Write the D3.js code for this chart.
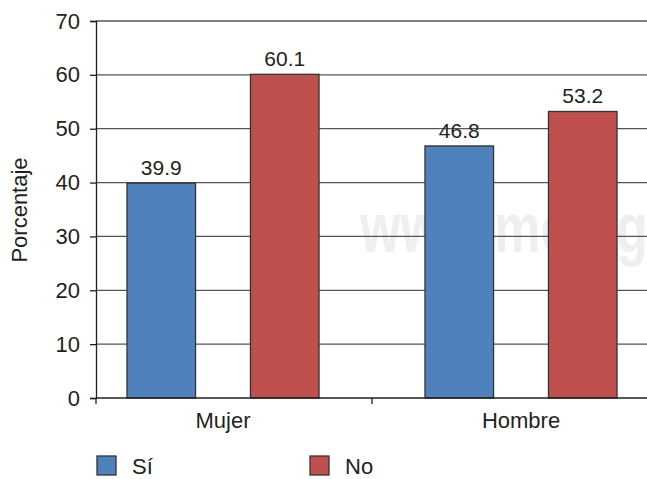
<!DOCTYPE html>
<html>
<head>
<meta charset="utf-8">
<script src="https://cdn.jsdelivr.net/npm/d3@7"></script>
<style>
  body { margin: 0; background: #fff; }
  svg { display: block; font-family: "Liberation Sans", Arial, sans-serif; }
</style>
</head>
<body>
<script>
// data
const categories = ["Mujer", "Hombre"];
const series = ["Sí", "No"];
const siValues = [39.9, 46.8];
const noValues = [60.1, 53.2];
const yTicks = [0, 10, 20, 30, 40, 50, 60, 70];

const colors = { "Sí": "#4f81bd", "No": "#c0504d" };
const textColor = "#231f20";

const width = 647, height = 479;
const margin = { top: 21, right: -1, bottom: 81, left: 96 };

const svg = d3.select("body").append("svg")
  .attr("width", width)
  .attr("height", height);

const x0 = d3.scaleBand()
  .domain(categories)
  .range([margin.left, width - margin.right]);

const x1 = d3.scaleBand()
  .domain(series)
  .range([0, x0.bandwidth()])
  .paddingInner(0.445)
  .paddingOuter(0.34);

// groups sit a bit away from the middle tick, like the original
const groupNudge = [-11, 11];

const y = d3.scaleLinear()
  .domain([0, 70])
  .range([height - margin.bottom, margin.top]);

// watermark (cut by the bars and the right edge, as in the source)
svg.append("text")
  .attr("transform", "translate(360,252) scale(0.745,1)")
  .attr("font-size", 70)
  .attr("font-weight", "bold")
  .attr("fill", "#efefef")
  .text("www.medig");

// grid
svg.append("g")
  .selectAll("line")
  .data(yTicks.filter(d => d > 0))
  .join("line")
  .attr("x1", margin.left)
  .attr("x2", width)
  .attr("y1", d => y(d))
  .attr("y2", d => y(d))
  .attr("stroke", "#555")
  .attr("stroke-width", 1.3);

// y axis
const yAxis = svg.append("g")
  .attr("transform", `translate(${margin.left},0)`)
  .call(d3.axisLeft(y).tickValues(yTicks).tickSize(6).tickPadding(10).tickFormat(d3.format("d")));
yAxis.select(".domain").attr("stroke", "#231f20").attr("stroke-width", 1.3);
yAxis.selectAll(".tick line").attr("stroke", "#231f20").attr("stroke-width", 1.3);
yAxis.selectAll("text")
  .attr("font-size", 22)
  .attr("fill", textColor)
  .attr("font-family", "Liberation Sans, Arial, sans-serif");

// bars
const rows = categories.map((c, i) => ({ cat: c, i, vals: [
  { key: "Sí", value: siValues[i] },
  { key: "No", value: noValues[i] }
] }));

const groups = svg.append("g")
  .selectAll("g")
  .data(rows)
  .join("g")
  .attr("transform", d => `translate(${x0(d.cat) + groupNudge[d.i]},0)`);

groups.selectAll("rect")
  .data(d => d.vals)
  .join("rect")
  .attr("x", d => x1(d.key))
  .attr("width", x1.bandwidth())
  .attr("y", d => y(d.value))
  .attr("height", d => y(0) - y(d.value))
  .attr("fill", d => colors[d.key])
  .attr("stroke", "#333")
  .attr("stroke-width", 1.3);

groups.selectAll("text")
  .data(d => d.vals)
  .join("text")
  .attr("x", d => x1(d.key) + x1.bandwidth() / 2)
  .attr("y", d => y(d.value) - 8)
  .attr("text-anchor", "middle")
  .attr("font-size", 21)
  .attr("fill", textColor)
  .text(d => d.value.toFixed(1));

// x axis
const xAxis = svg.append("g")
  .attr("transform", `translate(0,${y(0)})`);
xAxis.append("line")
  .attr("x1", margin.left)
  .attr("x2", width)
  .attr("stroke", "#231f20")
  .attr("stroke-width", 1.3);
xAxis.selectAll("line.tk")
  .data([margin.left, x0(categories[1]), width - margin.right])
  .join("line")
  .attr("class", "tk")
  .attr("x1", d => d)
  .attr("x2", d => d)
  .attr("y1", 0)
  .attr("y2", 6)
  .attr("stroke", "#231f20")
  .attr("stroke-width", 1.3);
xAxis.selectAll("text")
  .data(rows)
  .join("text")
  .attr("x", d => x0(d.cat) + x0.bandwidth() / 2 + groupNudge[d.i])
  .attr("y", 30)
  .attr("text-anchor", "middle")
  .attr("font-size", 22)
  .attr("fill", textColor)
  .text(d => d.cat);

// y title
svg.append("text")
  .attr("transform", "translate(27,210) rotate(-90)")
  .attr("text-anchor", "middle")
  .attr("font-size", 22)
  .attr("fill", textColor)
  .text("Porcentaje");

// legend
const legendX = [97, 310];
const legend = svg.append("g")
  .selectAll("g")
  .data(series)
  .join("g")
  .attr("transform", (d, i) => `translate(${legendX[i]},456)`);
legend.append("rect")
  .attr("width", 19)
  .attr("height", 19)
  .attr("fill", d => colors[d])
  .attr("stroke", "#333")
  .attr("stroke-width", 1.3);
legend.append("text")
  .attr("x", 35)
  .attr("y", 18)
  .attr("font-size", 22)
  .attr("fill", textColor)
  .text(d => d);
</script>
</body>
</html>
